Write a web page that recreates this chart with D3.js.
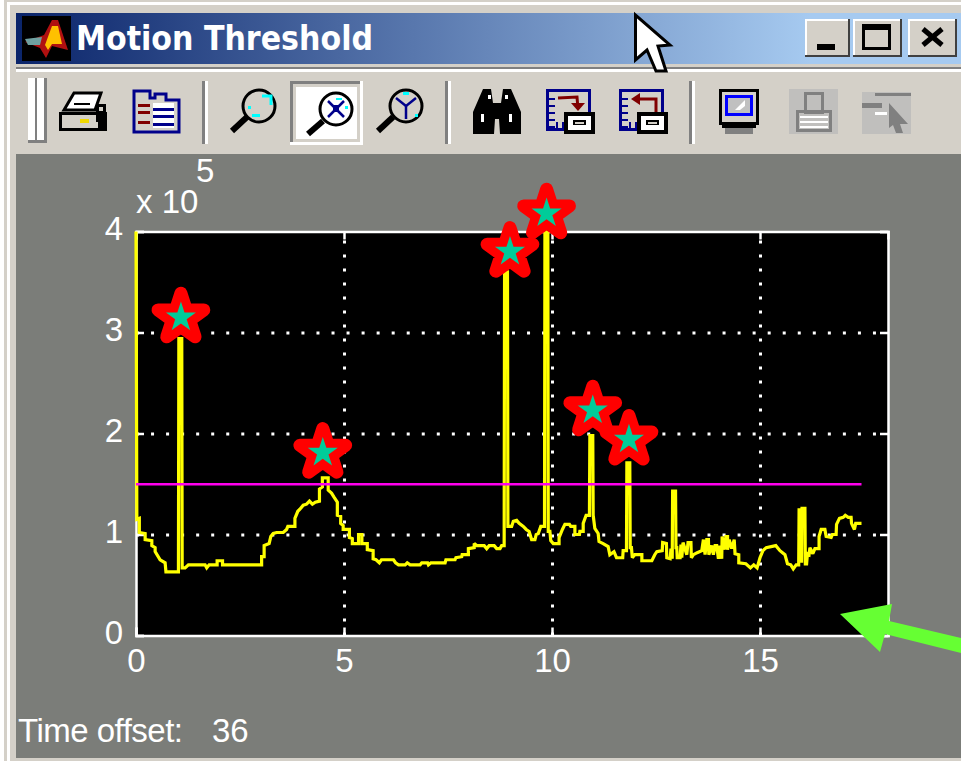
<!DOCTYPE html>
<html>
<head>
<meta charset="utf-8">
<title>Motion Threshold</title>
<script src="https://cdn.jsdelivr.net/npm/d3@7"></script>
<style>
  html, body { margin: 0; padding: 0; background: #d4d0c8; overflow: hidden; }
  svg { display: block; }
  text { fill: #fff; font-family: "Liberation Sans", sans-serif; }
</style>
</head>
<body>
<div id="chart"></div>
<script>
// time (x axis), motion in units of 10^5 (y axis)
const motionTrace = [
  [0,4],[0.02,1.15],[0.08,1.16],[0.08,1.02],[0.22,1.01],[0.22,0.95],[0.38,0.94],[0.38,0.89],[0.46,0.87],[0.46,0.83],
  [0.58,0.75],[0.7,0.72],[0.72,0.63],[1.02,0.63],[1.03,2.94],[1.1,2.94],[1.11,0.67],[1.18,0.67],[1.26,0.7],[1.66,0.7],
  [1.7,0.67],[1.76,0.7],[1.95,0.7],[1.95,0.74],[2.08,0.74],[2.08,0.7],[3.02,0.7],[3.02,0.78],[3.08,0.78],[3.08,0.89],
  [3.2,0.91],[3.24,0.98],[3.3,1.01],[3.38,1.02],[3.54,1.02],[3.62,1.05],[3.65,1.08],[3.82,1.08],[3.82,1.16],[3.89,1.23],
  [3.94,1.25],[4.02,1.29],[4.1,1.3],[4.17,1.33],[4.24,1.3],[4.31,1.32],[4.41,1.33],[4.41,1.45],[4.48,1.47],[4.48,1.56],
  [4.62,1.56],[4.62,1.44],[4.7,1.41],[4.76,1.37],[4.84,1.32],[4.84,1.19],[4.92,1.18],[4.92,1.11],[4.98,1.09],[4.98,1.05],
  [5.13,1.05],[5.13,0.97],[5.2,0.96],[5.2,0.91],[5.35,0.91],[5.35,1],[5.43,1],[5.43,0.91],[5.49,0.91],[5.56,0.91],
  [5.56,0.85],[5.7,0.84],[5.7,0.76],[5.77,0.75],[5.85,0.72],[5.9,0.75],[6.19,0.75],[6.24,0.72],[6.31,0.7],[6.47,0.7],
  [6.52,0.72],[6.59,0.7],[6.83,0.7],[6.87,0.72],[7.01,0.72],[7.03,0.7],[7.09,0.72],[7.43,0.72],[7.45,0.75],[7.67,0.75],
  [7.69,0.77],[7.83,0.78],[7.84,0.8],[7.99,0.8],[7.99,0.86],[8.13,0.87],[8.13,0.91],[8.19,0.89],[8.37,0.89],[8.43,0.86],
  [8.49,0.89],[8.61,0.89],[8.67,0.86],[8.75,0.86],[8.79,0.89],[8.85,0.89],[8.86,3.6],[8.93,3.6],[8.94,1.08],[9.03,1.08],
  [9.07,1.13],[9.15,1.14],[9.21,1.11],[9.31,1.08],[9.38,1.05],[9.45,1.03],[9.51,0.95],[9.59,0.95],[9.62,1],[9.67,1.01],
  [9.73,1.08],[9.82,1.08],[9.83,4],[9.9,4],[9.91,1.03],[9.95,1.03],[9.97,0.94],[10.03,0.91],[10.17,0.91],[10.17,0.97],
  [10.25,1.05],[10.31,1.1],[10.42,1.1],[10.45,1.08],[10.55,1.08],[10.55,1],[10.66,1],[10.67,1.03],[10.75,1.03],[10.75,1.11],
  [10.82,1.19],[10.9,1.19],[10.91,1.98],[10.98,1.98],[10.99,1.19],[11.03,1.06],[11.11,1.01],[11.13,0.93],[11.23,0.91],[11.35,0.88],
  [11.39,0.8],[11.49,0.83],[11.55,0.77],[11.7,0.77],[11.71,0.84],[11.79,0.84],[11.8,1.71],[11.87,1.71],[11.88,0.87],[11.91,0.87],
  [11.93,0.77],[11.99,0.8],[12.16,0.8],[12.16,0.74],[12.4,0.74],[12.47,0.8],[12.52,0.83],[12.65,0.84],[12.66,0.92],[12.75,0.91],
  [12.76,0.77],[12.84,0.76],[12.86,0.86],[12.89,0.76],[12.9,1.43],[12.97,1.43],[12.98,0.87],[13,0.87],[13.01,0.77],[13.08,0.77],
  [13.1,0.9],[13.12,0.77],[13.15,0.92],[13.24,0.8],[13.27,0.92],[13.34,0.92],[13.35,0.77],[13.4,0.8],[13.49,0.82],[13.6,0.84],
  [13.64,0.95],[13.68,0.8],[13.72,0.95],[13.76,0.95],[13.77,0.8],[13.84,0.89],[13.88,0.8],[13.92,0.89],[13.96,0.89],[14,0.76],
  [14.04,0.89],[14.08,0.76],[14.09,0.98],[14.14,0.85],[14.18,0.98],[14.22,0.98],[14.22,0.85],[14.26,0.95],[14.32,0.86],[14.38,0.95],
  [14.4,0.81],[14.49,0.8],[14.49,0.72],[14.66,0.71],[14.77,0.67],[14.85,0.7],[14.93,0.67],[15,0.77],[15.07,0.84],[15.15,0.87],
  [15.38,0.89],[15.48,0.84],[15.6,0.8],[15.66,0.71],[15.74,0.7],[15.8,0.66],[15.87,0.7],[15.93,0.7],[15.94,1.26],[16,0.72],
  [16.01,1.26],[16.08,1.26],[16.09,0.71],[16.12,0.71],[16.14,0.81],[16.18,0.8],[16.2,0.87],[16.27,0.81],[16.32,0.86],[16.42,0.86],
  [16.42,0.98],[16.47,1.05],[16.56,1.05],[16.59,0.98],[16.71,0.97],[16.74,1],[16.83,1],[16.84,1.1],[16.91,1.16],[17,1.17],
  [17.05,1.19],[17.12,1.17],[17.19,1.17],[17.2,1.11],[17.27,1.05],[17.3,1.11],[17.44,1.11]
];
const thresholdValue = 1.497;
const thresholdEnd = 17.44;
// hand placed stars on the picked peaks
const starPoints = [[1.08,3.15],[4.49,1.81],[8.99,3.80],[9.87,4.18],[10.98,2.23],[11.85,1.94]];
const xTicks = [0, 5, 10, 15];
const yTicks = [0, 1, 2, 3, 4];
const windowTitle = "Motion Threshold";
const offsetLabel = "Time offset:";
const offsetValue = "36";

const W = 961, H = 761;
const plot = { left: 136, right: 888, top: 231.5, bottom: 635.5 };

const svg = d3.select("#chart").append("svg").attr("width", W).attr("height", H);

function box(g, x, y, w, h, fill) {
  return g.append("rect").attr("x", x).attr("y", y).attr("width", w).attr("height", h).attr("fill", fill);
}
function outline(g, x, y, w, h, color, sw) {
  return g.append("rect").attr("x", x + sw / 2).attr("y", y + sw / 2).attr("width", w - sw).attr("height", h - sw)
    .attr("fill", "none").attr("stroke", color).attr("stroke-width", sw);
}
function seg(g, x1, y1, x2, y2, color, sw) {
  return g.append("line").attr("x1", x1).attr("y1", y1).attr("x2", x2).attr("y2", y2)
    .attr("stroke", color).attr("stroke-width", sw);
}

// ---- window frame ----
const chrome = svg.append("g");
box(chrome, 0, 0, W, H, "#d4d0c8");
box(chrome, 0, 2, W, 3, "#ffffff");
box(chrome, 0, 5, W, 3, "#d4d0c8");
box(chrome, 0, 0, 4, H, "#ffffff");
box(chrome, 4, 0, 3, H, "#d4d0c8");
box(chrome, 7, 5, 3, H, "#ffffff");
box(chrome, 10, 8, W, H, "#d4d0c8");
box(chrome, 16, 154, W - 16, 604, "#7b7d79");

const grad = svg.append("defs").append("linearGradient").attr("id", "titleGrad");
grad.append("stop").attr("offset", "0").attr("stop-color", "#0a246a");
grad.append("stop").attr("offset", "0.84").attr("stop-color", "#a6caf0");
box(chrome, 16, 13, W - 16, 51, "url(#titleGrad)");
box(chrome, 16, 67, W - 16, 2, "#808080");
box(chrome, 16, 69, W - 16, 3, "#ffffff");

// title bar icon and text
box(chrome, 22, 16, 49, 45, "#000000");
chrome.append("path").attr("d", "M25 42 L44 35 L52 20 L58 20 L68 50 L52 46 L46 58 L40 48 Z").attr("fill", "#b01010");
chrome.append("path").attr("d", "M52 26 L58 26 L62 44 L52 44 L48 50 L45 45 Z").attr("fill", "#ffc000");
chrome.append("path").attr("d", "M25 39 L42 37 L40 45 L28 45 Z").attr("fill", "#6fa0a0");
chrome.append("text").attr("x", 76).attr("y", 50).attr("textLength", 297).attr("lengthAdjust", "spacingAndGlyphs")
  .style("font-family", "'DejaVu Sans', sans-serif").style("font-weight", "bold").style("font-size", "33px")
  .text(windowTitle);

// window buttons
function winButton(x, w) {
  const b = chrome.append("g");
  box(b, x, 19, w, 38, "#404040");
  box(b, x, 19, w - 2, 36, "#ffffff");
  box(b, x + 2, 21, w - 4, 34, "#d4d0c8");
  return b;
}
const minB = winButton(805, 45);
box(minB, 817, 44, 18, 6, "#000000");
const maxB = winButton(853, 49);
outline(maxB, 862, 24, 29, 26, "#000000", 3);
box(maxB, 862, 24, 29, 6, "#000000");
const closeB = winButton(908, 49);
seg(closeB, 923, 29, 942, 45, "#000000", 5);
seg(closeB, 942, 29, 923, 45, "#000000", 5);

// ---- toolbar ----
const bar = svg.append("g");
box(bar, 28, 78, 19, 65, "#808080");
box(bar, 28, 78, 7, 62, "#ffffff");
box(bar, 37, 78, 7, 62, "#ffffff");
[202, 445, 689].forEach(x => {
  box(bar, x, 81, 3, 63, "#808080");
  box(bar, x + 3, 81, 3, 63, "#ffffff");
});

// printer
box(bar, 59, 112, 48, 19, "#000000");
box(bar, 62, 115, 36, 13, "#d4d0c8");
bar.append("path").attr("d", "M74 93 L101 93 L95 110 L64 110 Z").attr("fill", "#fff").attr("stroke", "#000").attr("stroke-width", 3);
seg(bar, 74, 104, 90, 104, "#000", 2);
box(bar, 80, 119, 9, 4, "#f0d800");
box(bar, 96, 104, 10, 18, "#000");
box(bar, 99, 107, 4, 4, "#d4d0c8");

// property editor page
bar.append("path").attr("d", "M134 91 L150 91 L150 98 L155 98 L155 94 L166 94 L166 100 L179 100 L179 132 L134 132 Z")
  .attr("fill", "#d4d0c8").attr("stroke", "#00008b").attr("stroke-width", 3);
box(bar, 153, 103, 21, 25, "#ffffff");
[108, 115, 123].forEach(y => box(bar, 153, y, 21, 3, "#00008b"));
[104, 111, 121].forEach(y => box(bar, 138, y, 12, 3, "#800000"));

// pressed zoom button
box(bar, 290, 81, 73, 64, "#d4d0c8");
box(bar, 290, 81, 72, 3, "#808080");
box(bar, 290, 81, 3, 63, "#808080");
box(bar, 290, 142, 73, 3, "#ffffff");
box(bar, 360, 81, 3, 64, "#ffffff");
box(bar, 296, 87, 61, 52, "#ffffff");

function lens(cx, cy, hx, hy, ex, ey, glass) {
  const g = bar.append("g");
  seg(g, hx, hy, ex, ey, "#000", 6);
  g.append("circle").attr("cx", cx).attr("cy", cy).attr("r", 16).attr("fill", glass).attr("stroke", "#000").attr("stroke-width", 3);
  return g;
}
const lensA = lens(259, 106, 232, 131, 247, 117, "#d4d0c8");
lensA.append("path").attr("d", "M262 96 L271 96 L271 105").attr("fill", "none").attr("stroke", "#00ffff").attr("stroke-width", 3);
box(lensA, 248, 106, 3, 3, "#00ffff");
box(lensA, 252, 114, 8, 3, "#00ffff");
const lensB = lens(336, 109, 308, 134, 323, 121, "#ffffff");
seg(lensB, 328, 101, 344, 117, "#00008b", 2.5);
seg(lensB, 344, 101, 328, 117, "#00008b", 2.5);
box(lensB, 333, 105, 6, 7, "#00008b");
box(lensB, 336, 98, 6, 2, "#00ffff");
box(lensB, 345, 106, 3, 3, "#00ffff");
const lensC = lens(406, 106, 378, 131, 393, 117, "#d4d0c8");
seg(lensC, 406, 106, 406, 119, "#00008b", 2.5);
seg(lensC, 406, 106, 396, 98, "#00008b", 2.5);
seg(lensC, 406, 106, 416, 98, "#00008b", 2.5);
box(lensC, 403, 92, 6, 3, "#00ffff");
box(lensC, 415, 114, 3, 3, "#00ffff");

// binoculars
bar.append("path").attr("d", "M483 89 L491 89 L493 103 L501 103 L503 89 L511 89 L521 112 L521 134 L500 134 L499 119 L495 119 L494 134 L473 134 L473 112 Z").attr("fill", "#000");
box(bar, 488, 95, 3, 4, "#fff");
box(bar, 505, 95, 3, 4, "#fff");
box(bar, 481, 114, 3, 8, "#fff");
box(bar, 509, 114, 3, 8, "#fff");

// legend / colorbar style pages
function pageIcon(x, arrow) {
  const g = bar.append("g");
  outline(g, x, 89, 45, 42, "#00008b", 3);
  [98, 105, 112, 119, 126].forEach(y => box(g, x + 3, y, 6, 2, "#00008b"));
  [x + 10, x + 16].forEach(px => box(g, px, 122, 2, 7, "#00008b"));
  g.append("path").attr("d", arrow).attr("fill", "none").attr("stroke", "#800000").attr("stroke-width", 3);
  box(g, x + 18, 112, 31, 22, "#000");
  box(g, x + 22, 116, 23, 14, "#fff");
  box(g, x + 27, 120, 13, 5, "#000");
  box(g, x + 29, 122, 9, 2, "#d4d0c8");
}
pageIcon(546, "M558 98 L577 97 L578 109");
bar.append("path").attr("d", "M571 103 L585 103 L578 111 Z").attr("fill", "#800000");
pageIcon(619, "M634 99 L656 99 L656 112");
bar.append("path").attr("d", "M631 99 L640 93 L640 105 Z").attr("fill", "#800000");

// chip icon
outline(bar, 719, 89, 40, 36, "#000", 3);
box(bar, 725, 95, 28, 21, "#0000ff");
box(bar, 728, 98, 22, 15, "#c0c0c0");
bar.append("path").attr("d", "M735 110 L745 100 L745 106 L740 110 Z").attr("fill", "#fff");
box(bar, 722, 125, 34, 3, "#000");
box(bar, 725, 128, 28, 6, "#808080");

// disabled icons
box(bar, 789, 89, 49, 45, "#c0bfbd");
outline(bar, 804, 92, 20, 22, "#808080", 3);
outline(bar, 796, 110, 36, 22, "#808080", 3);
[116, 121, 126].forEach(y => box(bar, 800, y, 28, 2, "#ffffff"));
box(bar, 862, 92, 49, 42, "#c0bfbd");
box(bar, 862, 103, 20, 5, "#808080");
box(bar, 875, 93, 36, 3, "#808080");
bar.append("path").attr("d", "M889 103 L908 124 L900 124 L903 133 L896 133 L893 125 L889 128 Z").attr("fill", "#808080");
box(bar, 875, 112, 12, 3, "#ffffff");

// ---- the plot ----
const x = d3.scaleLinear().domain([0, 18.077]).range([plot.left, plot.right]);
const y = d3.scaleLinear().domain([0, 4]).range([plot.bottom, plot.top]);

box(svg, plot.left, plot.top, plot.right - plot.left, plot.bottom - plot.top, "#000000");

// dotted grid
const gridY = svg.append("g").attr("transform", `translate(${plot.left},0)`)
  .call(d3.axisLeft(y).tickValues(yTicks.slice(1, 4)).tickSize(-(plot.right - plot.left)).tickFormat(""));
gridY.select(".domain").remove();
gridY.selectAll("line").attr("stroke", "#fff").attr("stroke-width", 3).attr("stroke-dasharray", "3 12.04");
const gridX = svg.append("g").attr("transform", `translate(0,${plot.bottom})`)
  .call(d3.axisBottom(x).tickValues(xTicks.slice(1)).tickSize(-(plot.bottom - plot.top)).tickFormat(""));
gridX.select(".domain").remove();
gridX.selectAll("line").attr("stroke", "#fff").attr("stroke-width", 3).attr("stroke-dasharray", "3 11");

// axes with inward ticks and labels
const axisLeft = svg.append("g").attr("transform", `translate(${plot.left},0)`)
  .call(d3.axisLeft(y).tickValues(yTicks).tickSize(-8).tickPadding(13).tickFormat(d3.format("d")));
const axisBottom = svg.append("g").attr("transform", `translate(0,${plot.bottom})`)
  .call(d3.axisBottom(x).tickValues(xTicks).tickSize(-8).tickPadding(13).tickFormat(d3.format("d")));
const axisRight = svg.append("g").attr("transform", `translate(${plot.right},0)`)
  .call(d3.axisRight(y).tickValues(yTicks).tickSize(-8).tickFormat(""));
const axisTop = svg.append("g").attr("transform", `translate(0,${plot.top})`)
  .call(d3.axisTop(x).tickValues(xTicks).tickSize(-8).tickFormat(""));
[axisLeft, axisBottom, axisRight, axisTop].forEach(a => {
  a.selectAll(".domain").attr("stroke", "#fff").attr("stroke-width", 2.5);
  a.selectAll("line").attr("stroke", "#fff").attr("stroke-width", 2.5);
  a.selectAll("text").attr("fill", "#fff").style("font-family", "'Liberation Sans', sans-serif").style("font-size", "33px");
});
axisBottom.selectAll("text").attr("dy", "0.71em");
axisLeft.selectAll("text").attr("dy", "0.23em");

// trace
const line = d3.line().x(d => x(d[0])).y(d => y(d[1]));
svg.append("path").datum(motionTrace).attr("d", line)
  .attr("fill", "none").attr("stroke", "#ffff00").attr("stroke-width", 3.2)
  .attr("stroke-linejoin", "miter").attr("stroke-miterlimit", 2);

// threshold line
svg.append("path").datum([[0, thresholdValue], [thresholdEnd, thresholdValue]]).attr("d", line)
  .attr("fill", "none").attr("stroke", "#ff00ee").attr("stroke-width", 2.5);

// stars
const redStar = d3.symbol().type(d3.symbolStar).size(650);
const tealStar = d3.symbol().type(d3.symbolStar).size(280);
svg.selectAll(".star-red").data(starPoints).enter().append("path")
  .attr("class", "star-red").attr("d", redStar)
  .attr("transform", d => `translate(${x(d[0])},${y(d[1])})`)
  .attr("fill", "#ff0000").attr("stroke", "#ff0000").attr("stroke-width", 13).attr("stroke-linejoin", "round");
svg.selectAll(".star-teal").data(starPoints).enter().append("path")
  .attr("class", "star-teal").attr("d", tealStar)
  .attr("transform", d => `translate(${x(d[0])},${y(d[1])})`)
  .attr("fill", "#00cc99");

// multiplier and offset labels
svg.append("text").attr("x", 136).attr("y", 213).style("font-size", "33px").text("x 10");
svg.append("text").attr("x", 196).attr("y", 182).style("font-size", "33px").text("5");
svg.append("text").attr("x", 18).attr("y", 742).style("font-size", "33px").attr("textLength", 165).text(offsetLabel);
svg.append("text").attr("x", 212).attr("y", 742).style("font-size", "33px").text(offsetValue);

// green annotation arrow
svg.append("path")
  .attr("d", "M840 614 L892 604 L889 621 L961 638 L961 653 L885 634 L880 652 Z")
  .attr("fill", "#66ff33");

// mouse cursor
svg.append("path")
  .attr("d", "M635.5 15 L635.5 60 L647 50 L656 71 L666 71 L658 46 L670 45 Z")
  .attr("fill", "#fff").attr("stroke", "#000").attr("stroke-width", 3).attr("stroke-linejoin", "miter");
</script>
</body>
</html>
